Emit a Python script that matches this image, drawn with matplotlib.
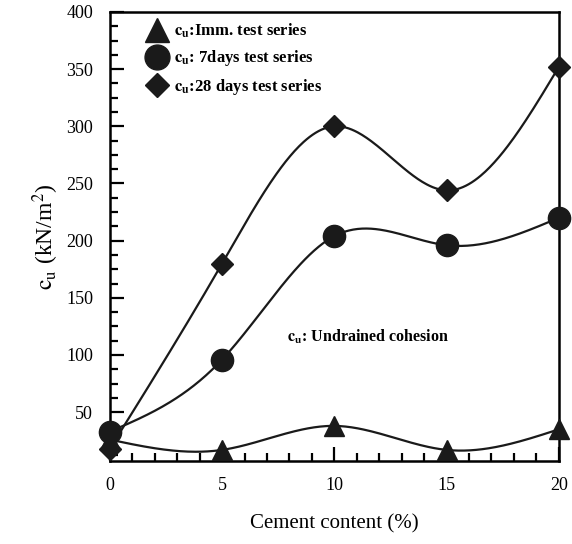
import numpy as np
import matplotlib
matplotlib.use("Agg")
import matplotlib.pyplot as plt
from matplotlib.ticker import MultipleLocator

plt.rcParams['font.family'] = ['Liberation Serif', 'DejaVu Serif']
plt.rcParams['mathtext.fontset'] = 'stix'

# ---------- data ----------
cement = [0, 5, 10, 15, 20]
cu_imm = [26, 17, 38, 17, 35]
cu_7d = [33, 96, 204, 196, 220]
cu_28d = [18, 180, 300, 244, 352]


def natural_spline(x, y, n=300):
    x = np.asarray(x, float); y = np.asarray(y, float)
    k = len(x); h = np.diff(x)
    A = np.zeros((k, k)); r = np.zeros(k)
    A[0, 0] = A[-1, -1] = 1.0
    for i in range(1, k - 1):
        A[i, i-1] = h[i-1]; A[i, i] = 2*(h[i-1] + h[i]); A[i, i+1] = h[i]
        r[i] = 6*((y[i+1]-y[i])/h[i] - (y[i]-y[i-1])/h[i-1])
    M = np.linalg.solve(A, r)
    xs = np.linspace(x[0], x[-1], n)
    idx = np.clip(np.searchsorted(x, xs) - 1, 0, k - 2)
    x0, x1 = x[idx], x[idx+1]; hh = x1 - x0
    a = (x1 - xs)/hh; b = (xs - x0)/hh
    ys = a*y[idx] + b*y[idx+1] + ((a**3 - a)*M[idx] + (b**3 - b)*M[idx+1])*hh**2/6
    return xs, ys


fig = plt.figure(figsize=(5.72, 5.44), dpi=100)
ax = fig.add_axes([0.192, 0.153, 0.785, 0.825])

series = [(cu_imm, '^', 15, r'$\mathbf{c_u}$:Imm. test series'),
          (cu_7d, 'o', 16, r'$\mathbf{c_u}$: 7days test series'),
          (cu_28d, 'D', 11, r'$\mathbf{c_u}$:28 days test series')]
for vals, mk, ms, lab in series:
    xs, ys = natural_spline(cement, vals)
    ax.plot(xs, ys, color='#1a1a1a', lw=1.6, zorder=2)
    ax.plot(cement, vals, linestyle='none', marker=mk, ms=ms, color='#1a1a1a',
            clip_on=False, zorder=3, label=lab)

ax.set_xlim(0, 20)
ax.set_ylim(7.5, 400)
ax.xaxis.set_major_locator(MultipleLocator(5))
ax.xaxis.set_minor_locator(MultipleLocator(1))
ax.set_yticks([50, 100, 150, 200, 250, 300, 350, 400])
ax.yaxis.set_minor_locator(MultipleLocator(12.5))
ax.tick_params(which='both', direction='in', width=1.6, top=False, right=False,
               labelsize=13, pad=12)
ax.tick_params(which='major', length=10)
ax.tick_params(which='minor', length=6)
for s in ax.spines.values():
    s.set_linewidth(1.8)

ax.set_xlabel('Cement content (%)', fontsize=15, labelpad=14)
ax.set_ylabel(r'$\mathrm{c_u}$ (kN/m$^2$)', fontsize=17, labelpad=4)

ax.text(7.9, 116, r'$\mathbf{c_u}$: Undrained cohesion', fontsize=11.5,
        fontweight='bold', va='center', ha='left')

leg = ax.legend(loc='upper left', bbox_to_anchor=(0.045, 1.008), frameon=False,
                prop={'weight': 'bold', 'size': 12}, handletextpad=0.25,
                labelspacing=0.5, borderpad=0.3, handlelength=1.6,
                markerscale=1.12)

fig.savefig('out.png', dpi=100)
